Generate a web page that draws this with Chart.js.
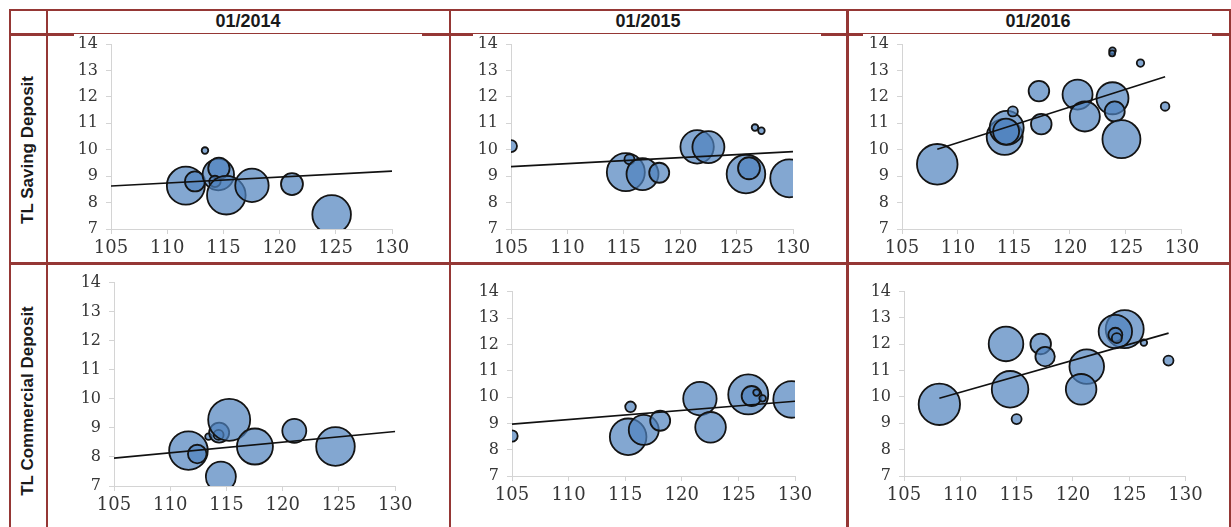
<!DOCTYPE html>
<html>
<head>
<meta charset="utf-8">
<script src="https://cdn.jsdelivr.net/npm/chart.js@4.4.1/dist/chart.umd.min.js"></script>
<style>
  body { margin: 0; width: 1231px; height: 527px; background: #fff; position: relative; overflow: hidden;
         font-family: "Liberation Sans", Arial, sans-serif; }
  .ln { position: absolute; background: #953735; z-index: 3; }
  .wh { position: absolute; background: #fff; z-index: 4; }
  .hd { position: absolute; top: 11px; line-height: 20px; font-size: 18px; font-weight: bold; color: #1a1a1a; text-align: center; }
  .rl { position: absolute; font-size: 17px; font-weight: bold; color: #1a1a1a; white-space: nowrap;
        transform: translate(-50%, -50%) rotate(-90deg); }
  canvas { position: absolute; z-index: 1; }
</style>
</head>
<body>
<!-- table grid -->
<div class="ln" style="left:9px;top:9px;width:1222px;height:2px"></div>
<div class="ln" style="left:9px;top:33px;width:1222px;height:2.5px"></div>
<div class="wh" style="left:74px;top:34.4px;width:348px;height:1.2px"></div>
<div class="wh" style="left:473px;top:34.4px;width:348px;height:1.2px"></div>
<div class="wh" style="left:863px;top:34.4px;width:349px;height:1.2px"></div>
<div class="ln" style="left:9px;top:262px;width:1222px;height:2.5px"></div>
<div class="ln" style="left:9px;top:9px;width:2px;height:518px"></div>
<div class="ln" style="left:45.5px;top:9px;width:2.5px;height:518px"></div>
<div class="ln" style="left:448.5px;top:9px;width:2.5px;height:518px"></div>
<div class="ln" style="left:846px;top:9px;width:2.5px;height:518px"></div>
<div class="ln" style="left:1229px;top:9px;width:2px;height:518px"></div>

<div id="heads"></div>
<div id="charts"></div>

<script>
const periods = ['01/2014', '01/2015', '01/2016'];
const deposits = ['TL Saving Deposit', 'TL Commercial Deposit'];
const xTicks = [105, 110, 115, 120, 125, 130];
const yTicks = [7, 8, 9, 10, 11, 12, 13, 14];

// TL Saving Deposit, 01/2014
const s14x = [113.36, 111.66, 112.47, 114.55, 114.6, 114.25, 115.26, 117.54, 121.1, 124.63];
const s14y = [9.97, 8.64, 8.80, 9.06, 9.30, 8.80, 8.28, 8.65, 8.70, 7.55];
const s14r = [3.3, 19, 10, 15.7, 10.7, 5.7, 19.3, 16.7, 11, 19.3];
const s14tx = [105, 130];
const s14ty = [8.63, 9.19];

// TL Saving Deposit, 01/2015
const s15x = [105, 115.18, 115.5, 116.66, 118.14, 121.5, 122.5, 125.83, 126.1, 126.63, 127.2, 129.67];
const s15y = [10.14, 9.15, 9.64, 9.08, 9.13, 10.11, 10.1, 9.08, 9.3, 10.84, 10.72, 8.92];
const s15r = [6, 19, 5, 16, 10, 16.7, 16, 19.3, 11, 3.3, 3.3, 19];
const s15tx = [105, 130];
const s15ty = [9.36, 9.93];

// TL Saving Deposit, 01/2016
const s16x = [108.15, 114.17, 114.35, 114.3, 114.9, 117.23, 117.44, 120.68, 121.33, 123.8, 124.0, 124.6, 123.8, 123.77, 126.3, 128.5];
const s16y = [9.45, 10.49, 10.83, 10.69, 11.45, 12.22, 10.97, 12.09, 11.26, 11.95, 11.45, 10.40, 13.75, 13.65, 13.28, 11.64];
const s16r = [20.3, 18, 17, 13, 5, 10.3, 10.3, 15, 15, 16, 10, 19, 3.3, 3, 3.7, 4.3];
const s16tx = [108.15, 128.5];
const s16ty = [10.02, 12.76];

// TL Commercial Deposit, 01/2014
const c14x = [111.62, 112.4, 113.4, 114.35, 114.3, 115.24, 114.5, 117.53, 121.03, 124.69];
const c14y = [8.22, 8.10, 8.70, 8.84, 8.76, 9.28, 7.32, 8.36, 8.90, 8.36];
const c14r = [19.3, 9.3, 3.3, 10, 5, 21, 15, 18, 12, 19.3];
const c14tx = [105, 130];
const c14ty = [7.96, 8.88];

// TL Commercial Deposit, 01/2015
const c15x = [105, 115.26, 115.47, 116.64, 118.09, 121.6, 122.54, 125.87, 126.17, 126.6, 127.14, 129.7];
const c15y = [8.52, 8.49, 9.63, 8.75, 9.10, 9.94, 8.85, 10.1, 10.04, 10.17, 9.95, 9.91];
const c15r = [5.7, 18.3, 5.3, 15, 10, 16.7, 15.3, 20, 10, 3.3, 3.3, 18.3];
const c15tx = [105, 130];
const c15ty = [8.97, 9.84];

// TL Commercial Deposit, 01/2016
const c16x = [108.14, 114.06, 114.42, 115.0, 117.14, 117.53, 121.23, 120.73, 124.6, 123.77, 123.77, 123.9, 126.3, 128.49];
const c16y = [9.72, 12.01, 10.29, 9.16, 12.01, 11.53, 11.15, 10.29, 12.57, 12.48, 12.36, 12.23, 12.06, 11.38];
const c16r = [20.7, 17.3, 18.3, 5, 10.3, 9.7, 17.3, 15.3, 19, 16.7, 7, 5, 3.3, 5];
const c16tx = [108.14, 128.5];
const c16ty = [9.95, 12.42];

// plot areas on the page: left, top, right, bottom
const plotBoxes = [
  [111, 44, 392, 229], [511, 44, 793, 229], [902, 44, 1182, 229],
  [114, 283, 395, 486], [512, 292, 795, 476], [904, 292, 1185, 476]
];
const cellLefts = [47, 449, 847];
const cellRights = [449, 847, 1229];
const rowCenters = [150, 401];

const panels = [
  [s14x, s14y, s14r, s14tx, s14ty], [s15x, s15y, s15r, s15tx, s15ty], [s16x, s16y, s16r, s16tx, s16ty],
  [c14x, c14y, c14r, c14tx, c14ty], [c15x, c15y, c15r, c15tx, c15ty], [c16x, c16y, c16r, c16tx, c16ty]
];

const heads = document.getElementById('heads');
periods.forEach((p, i) => {
  const d = document.createElement('div');
  d.className = 'hd';
  d.style.left = cellLefts[i] + 'px';
  d.style.width = (cellRights[i] - cellLefts[i]) + 'px';
  d.textContent = p;
  heads.appendChild(d);
});
deposits.forEach((t, i) => {
  const d = document.createElement('div');
  d.className = 'rl';
  d.style.left = '28px';
  d.style.top = rowCenters[i] + 'px';
  d.textContent = t;
  heads.appendChild(d);
});

const Y_W = 46, X_H = 36, PAD_T = 12, PAD_R = 22;
const axisGrey = '#d4d4d4';

function makeChart(box, [xs, ys, rs, tx, ty]) {
  const [L, T, R, B] = box;
  const cv = document.createElement('canvas');
  cv.width = (R - L) + Y_W + PAD_R;
  cv.height = (B - T) + PAD_T + X_H;
  cv.style.left = (L - Y_W) + 'px';
  cv.style.top = (T - PAD_T) + 'px';
  document.getElementById('charts').appendChild(cv);

  const chart = new Chart(cv, {
    type: 'bubble',
    data: {
      datasets: [
        {
          type: 'bubble',
          data: xs.map((x, i) => ({ x, y: ys[i], r: rs[i] })),
          backgroundColor: 'rgba(79,129,189,0.7)',
          borderColor: '#141414',
          borderWidth: 1.8,
          clip: 0,
          order: 2
        },
        {
          type: 'line',
          data: tx.map((x, i) => ({ x, y: ty[i] })),
          borderColor: '#111',
          borderWidth: 1.6,
          pointRadius: 0,
          fill: false,
          order: 1
        }
      ]
    },
    options: {
      responsive: false,
      maintainAspectRatio: false,
      animation: false,
      devicePixelRatio: 1,
      layout: { padding: { top: PAD_T, right: PAD_R, left: 0, bottom: 0 } },
      plugins: { legend: { display: false }, tooltip: { enabled: false } },
      scales: {
        x: {
          type: 'linear',
          min: xTicks[0],
          max: xTicks[xTicks.length - 1],
          afterBuildTicks: s => { s.ticks = xTicks.map(v => ({ value: v })); },
          afterFit: s => { s.height = X_H; },
          grid: { drawOnChartArea: false, drawTicks: true, tickLength: 5, color: axisGrey },
          border: { display: true, color: axisGrey, width: 1 },
          ticks: { font: { family: 'DejaVu Serif', size: 18 }, color: '#363636', padding: 4, maxRotation: 0, autoSkip: false }
        },
        y: {
          type: 'linear',
          min: yTicks[0],
          max: yTicks[yTicks.length - 1],
          afterBuildTicks: s => { s.ticks = yTicks.map(v => ({ value: v })); },
          afterFit: s => { s.width = Y_W; },
          grid: { drawOnChartArea: false, drawTicks: true, tickLength: 5, color: axisGrey },
          border: { display: true, color: axisGrey, width: 1 },
          ticks: { font: { family: 'DejaVu Serif', size: 16 }, color: '#363636', padding: 8, autoSkip: false }
        }
      }
    }
  });

  // line the plot area up with the box: grow the canvas by whatever extra room the layout took
  const ca = chart.chartArea;
  const dTop = Math.round(ca.top - PAD_T);
  const dLeft = Math.round(ca.left - Y_W);
  const dBottom = Math.round((cv.height - ca.bottom) - X_H);
  const dRight = Math.round((cv.width - ca.right) - PAD_R);
  if (dTop || dLeft || dBottom || dRight) {
    const w = cv.width + dLeft + dRight;
    const h = cv.height + dTop + dBottom;
    cv.style.left = (L - Y_W - dLeft) + 'px';
    cv.style.top = (T - PAD_T - dTop) + 'px';
    chart.resize(w, h);
  }
}

plotBoxes.forEach((b, i) => makeChart(b, panels[i]));
</script>
</body>
</html>
